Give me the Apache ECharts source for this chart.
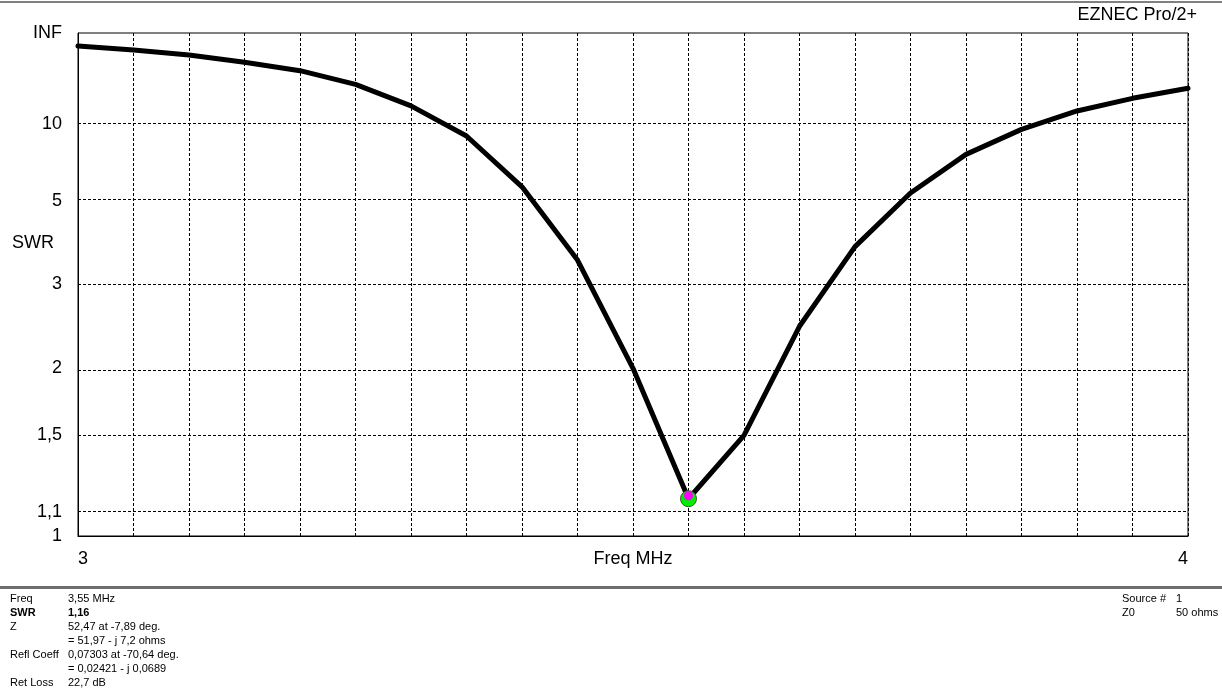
<!DOCTYPE html>
<html>
<head>
<meta charset="utf-8">
<script src="https://cdn.jsdelivr.net/npm/echarts@6/dist/echarts.min.js"></script>
<style>
html,body{margin:0;padding:0;background:#fff;}
#c{width:1222px;height:692px;}
</style>
</head>
<body>
<div id="c"></div>
<script>
// Frequencies (MHz) and SWR values
const freqs = [3.00, 3.05, 3.10, 3.15, 3.20, 3.25, 3.30, 3.35, 3.40, 3.45, 3.50,
               3.55, 3.60, 3.65, 3.70, 3.75, 3.80, 3.85, 3.90, 3.95, 4.00];
const swr = [76.5, 58.2, 44.8, 33.3, 25.7, 18.6, 12.8, 8.77, 5.54, 3.43, 2.00,
             1.16, 1.50, 2.43, 3.71, 5.29, 7.29, 9.44, 11.9, 14.4, 17.2];
// Y-axis (SWR scale) ticks and labels
const yTicks = [1, 1.1, 1.5, 2, 3, 5, 10, Infinity];
const yTickLabels = ['1', '1,1', '1,5', '2', '3', '5', '10', 'INF'];
const yGridSWR = [1.1, 1.5, 2, 3, 5, 10];
const xTickLabels = {3: '3', 4: '4'};
// Cursor marker
const markerFreq = 3.55;
const markerSWR = 1.16;
// Info panel texts
const infoLeft = [
  ['Freq', '3,55 MHz', false],
  ['SWR', '1,16', true],
  ['Z', '52,47 at -7,89 deg.', false],
  ['', '= 51,97 - j 7,2 ohms', false],
  ['Refl Coeff', '0,07303 at -70,64 deg.', false],
  ['', '= 0,02421 - j 0,0689', false],
  ['Ret Loss', '22,7 dB', false]
];
const infoRight = [
  ['Source #', '1'],
  ['Z0', '50 ohms']
];

function rho(s) { return s === Infinity ? 1 : (s - 1) / (s + 1); }

const FONT = '"Liberation Sans", Arial, sans-serif';
const lineData = freqs.map((f, i) => [f, rho(swr[i])]);

const graphics = [
  {type: 'rect', shape: {x: 0, y: 1, width: 1222, height: 2}, style: {fill: '#808080'}, silent: true},
  {type: 'rect', shape: {x: 0, y: 586, width: 1222, height: 3}, style: {fill: '#6e6e6e'}, silent: true},
  {type: 'text', style: {x: 1197, y: 15, text: 'EZNEC Pro/2+', textAlign: 'right', textVerticalAlign: 'middle',
    font: '18px ' + FONT, fill: '#000'}},
  {type: 'text', style: {x: 12, y: 243, text: 'SWR', textAlign: 'left', textVerticalAlign: 'middle',
    font: '18px ' + FONT, fill: '#000'}}
];
infoLeft.forEach((row, i) => {
  const y = 599 + i * 14;
  const f = (row[2] ? 'bold ' : '') + '11px ' + FONT;
  if (row[0]) graphics.push({type: 'text', style: {x: 10, y: y, text: row[0], textVerticalAlign: 'middle', font: f, fill: '#000'}});
  graphics.push({type: 'text', style: {x: 68, y: y, text: row[1], textVerticalAlign: 'middle', font: f, fill: '#000'}});
});
infoRight.forEach((row, i) => {
  const y = 599 + i * 14;
  graphics.push({type: 'text', style: {x: 1122, y: y, text: row[0], textVerticalAlign: 'middle', font: '11px ' + FONT, fill: '#000'}});
  graphics.push({type: 'text', style: {x: 1176, y: y, text: row[1], textVerticalAlign: 'middle', font: '11px ' + FONT, fill: '#000'}});
});

const chart = echarts.init(document.getElementById('c'), null, {renderer: 'canvas'});
chart.setOption({
  backgroundColor: '#fff',
  animation: false,
  grid: {left: 78, top: 33, right: 34, bottom: 156, show: true, borderColor: '#000', borderWidth: 1, backgroundColor: 'transparent'},
  xAxis: {
    type: 'value', min: 3, max: 4, interval: 0.05,
    name: 'Freq MHz', nameLocation: 'middle', nameGap: 14, nameMoveOverlap: false,
    nameTextStyle: {fontSize: 18, fontFamily: FONT, color: '#000'},
    axisLine: {show: true, lineStyle: {color: '#000', width: 1}},
    axisTick: {show: false},
    splitLine: {show: true, lineStyle: {color: '#000', width: 1, type: [3, 2]}},
    axisLabel: {
      margin: 14, fontSize: 18, fontFamily: FONT, color: '#000',
      alignMinLabel: 'left', alignMaxLabel: 'right',
      formatter: function (v) {
        for (const k in xTickLabels) { if (Math.abs(v - Number(k)) < 1e-6) return xTickLabels[k]; }
        return '';
      }
    }
  },
  yAxis: {
    type: 'value', min: 0, max: 1,
    axisLine: {show: true, lineStyle: {color: '#000', width: 1}},
    axisTick: {show: false},
    splitLine: {show: false},
    axisLabel: {
      margin: 16, fontSize: 18, fontFamily: FONT, color: '#000',
      customValues: yTicks.map(rho),
      formatter: function (v) {
        for (let j = 0; j < yTicks.length; j++) { if (Math.abs(rho(yTicks[j]) - v) < 1e-6) return yTickLabels[j]; }
        return '';
      }
    }
  },
  graphic: graphics,
  series: [
    {
      type: 'line', data: lineData, showSymbol: false, symbol: 'none', silent: true, z: 3,
      lineStyle: {color: '#000', width: 5, join: 'round', cap: 'round'},
      markLine: {
        silent: true, symbol: ['none', 'none'], label: {show: false}, animation: false,
        lineStyle: {color: '#000', width: 1, type: [3, 2]},
        data: yGridSWR.map(s => ({yAxis: rho(s)}))
      }
    },
    {
      type: 'scatter', z: 5, silent: true, symbol: 'circle', symbolSize: 16,
      itemStyle: {color: '#00ee00', borderColor: '#4a4a4a', borderWidth: 1, opacity: 1},
      data: [[markerFreq, rho(markerSWR)]]
    },
    {
      type: 'scatter', z: 6, silent: true, symbol: 'circle', symbolSize: 9, symbolOffset: [0, -3],
      itemStyle: {color: '#ff00ff', opacity: 1},
      data: [[markerFreq, rho(markerSWR)]]
    }
  ]
});
</script>
</body>
</html>
